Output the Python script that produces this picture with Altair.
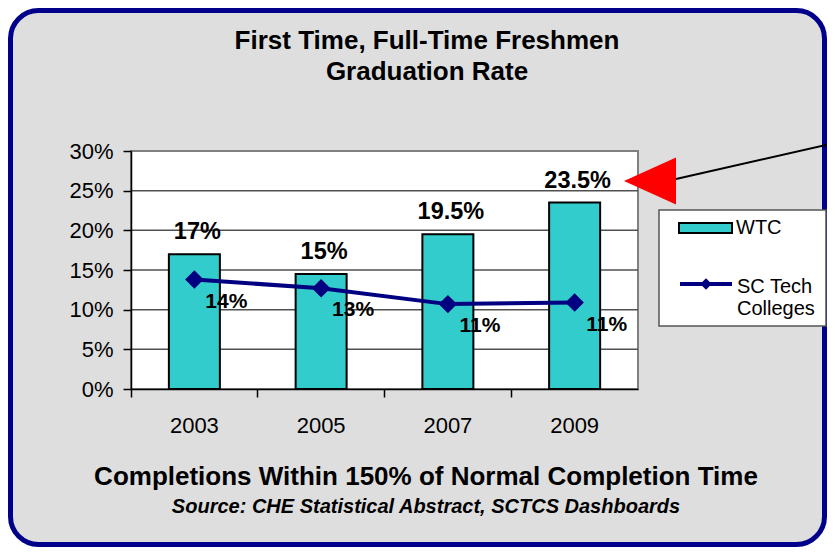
import altair as alt
import pandas as pd

# ---- data ----
years = ["2003", "2005", "2007", "2009"]
wtc = [0.17, 0.145, 0.195, 0.235]
wtc_labels = ["17%", "15%", "19.5%", "23.5%"]
sc = [0.138, 0.127, 0.107, 0.109]
sc_labels = ["14%", "13%", "11%", "11%"]
y_tick_values = [0, 0.05, 0.10, 0.15, 0.20, 0.25, 0.30]
grid_values = [0.05, 0.10, 0.15, 0.20, 0.25]

title_lines = ["First Time, Full-Time Freshmen", "Graduation Rate"]
bottom_title = "Completions Within 150% of Normal Completion Time"
source_text = "Source: CHE Statistical Abstract, SCTCS Dashboards"
legend_names = ["WTC", "SC Tech", "Colleges"]

df = pd.DataFrame({"year": years, "wtc": wtc, "wtc_label": wtc_labels,
                   "sc": sc, "sc_label": sc_labels})
grid_df = pd.DataFrame({"t": grid_values})
one = pd.DataFrame({"k": [0]})

W, H = 507, 238
FONT = "Liberation Sans"
NAVY = "#000080"
TEAL = "#33CCCC"

xaxis = alt.Axis(title=None, labelAngle=0, labelFontSize=22, labelFont=FONT,
                 labelColor="black", tickColor="black", tickSize=8, tickWidth=1.5,
                 domainColor="black", domainWidth=1.5, bandPosition=0,
                 labelPadding=18, zindex=1, grid=False)
yaxis = alt.Axis(title=None, values=y_tick_values, format=".0%", labelFontSize=22,
                 labelFont=FONT, labelColor="black", tickColor="black", tickSize=8,
                 tickWidth=1.5, domainColor="black", domainWidth=1.5,
                 labelPadding=10, zindex=1, grid=False)
xscale = alt.Scale(paddingInner=0, paddingOuter=0)
yscale = alt.Scale(domain=[0, 0.30], nice=False)


def X():
    return alt.X("year:N", sort=years, scale=xscale, axis=xaxis)


def Y(field):
    return alt.Y(field, scale=yscale, axis=yaxis)


base = alt.Chart(df)

background = alt.Chart(one).mark_rect(
    cornerRadius=28, fill="#dedede", stroke="#00008B", strokeWidth=5
).encode(x=alt.value(-120.5), x2=alt.value(693.5), y=alt.value(-140.5), y2=alt.value(393.5))

plot_bg = alt.Chart(one).mark_rect(fill="white", stroke="#808080", strokeWidth=2).encode(
    x=alt.value(0), x2=alt.value(W), y=alt.value(0), y2=alt.value(H))

grid = alt.Chart(grid_df).mark_rule(color="#505050", strokeWidth=1.5).encode(
    y=Y("t:Q"), x=alt.value(0), x2=alt.value(W))

bars = base.mark_bar(size=51, fill=TEAL, stroke="black", strokeWidth=2).encode(
    x=X(), y=Y("wtc:Q"))

bar_text = base.mark_text(font=FONT, fontSize=23.5, fontWeight="bold", baseline="bottom",
                          dy=-10, dx=3, color="black").encode(
    x=X(), y=Y("wtc:Q"), text="wtc_label:N")

line = base.mark_line(color=NAVY, strokeWidth=4).encode(x=X(), y=Y("sc:Q"))
pts = base.mark_point(shape="diamond", filled=True, size=340, color=NAVY, opacity=1).encode(
    x=X(), y=Y("sc:Q"))
line_text = base.mark_text(font=FONT, fontSize=21, fontWeight="bold", baseline="middle",
                           dx=32, dy=22, color="black").encode(
    x=X(), y=Y("sc:Q"), text="sc_label:N")

# legend
leg_box = alt.Chart(one).mark_rect(fill="white", stroke="#555555", strokeWidth=1.5).encode(
    x=alt.value(528), x2=alt.value(695), y=alt.value(59), y2=alt.value(175))
leg_sw = alt.Chart(one).mark_rect(fill=TEAL, stroke="black", strokeWidth=2).encode(
    x=alt.value(548), x2=alt.value(601), y=alt.value(72), y2=alt.value(82))
leg_line = alt.Chart(one).mark_rule(color=NAVY, strokeWidth=4).encode(
    x=alt.value(549), x2=alt.value(601), y=alt.value(133))
leg_pt = alt.Chart(one).mark_point(shape="diamond", filled=True, size=130, color=NAVY,
                                   opacity=1).encode(x=alt.value(575), y=alt.value(133))
leg_t1 = alt.Chart(one).mark_text(text=legend_names[0], font=FONT, fontSize=20, align="left",
                                  baseline="middle", color="black").encode(
    x=alt.value(605), y=alt.value(77))
leg_t2 = alt.Chart(one).mark_text(text=legend_names[1], font=FONT, fontSize=20, align="left",
                                  baseline="middle", color="black").encode(
    x=alt.value(606), y=alt.value(136))
leg_t3 = alt.Chart(one).mark_text(text=legend_names[2], font=FONT, fontSize=20, align="left",
                                  baseline="middle", color="black").encode(
    x=alt.value(606), y=alt.value(158))

# arrow
arrow = alt.Chart(one).mark_point(shape="M-1,0L1,-0.9L1,0.9Z", size=2704, filled=True,
                                  color="#FF0000", opacity=1, strokeWidth=0).encode(
    x=alt.value(519), y=alt.value(30))
arrow_line = alt.Chart(one).mark_rule(color="black", strokeWidth=2).encode(
    x=alt.value(545), y=alt.value(28), x2=alt.value(704), y2=alt.value(-8))

# titles
t1 = alt.Chart(one).mark_text(text=title_lines[0], font=FONT, fontSize=26, fontWeight="bold",
                              align="center", baseline="middle", color="black").encode(
    x=alt.value(296), y=alt.value(-110))
t2 = alt.Chart(one).mark_text(text=title_lines[1], font=FONT, fontSize=26, fontWeight="bold",
                              align="center", baseline="middle", color="black").encode(
    x=alt.value(296), y=alt.value(-79))
b1 = alt.Chart(one).mark_text(text=bottom_title, font=FONT, fontSize=26, fontWeight="bold",
                              align="center", baseline="middle", color="black").encode(
    x=alt.value(295), y=alt.value(326))
b2 = alt.Chart(one).mark_text(text=source_text, font=FONT, fontSize=20, fontWeight="bold",
                              fontStyle="italic", align="center", baseline="middle",
                              color="black").encode(
    x=alt.value(295), y=alt.value(356))

chart = alt.layer(
    background, plot_bg, grid, bars, bar_text, line, pts, line_text,
    leg_box, leg_sw, leg_line, leg_pt, leg_t1, leg_t2, leg_t3,
    arrow, arrow_line, t1, t2, b1, b2
).properties(
    width=W, height=H,
    autosize=alt.AutoSizeParams(type="none"),
    padding={"left": 123, "top": 143, "right": 189, "bottom": 158},
    background="white",
).configure_view(stroke=None)

chart.save("out.html", embed_options={"renderer": "svg", "actions": False})
